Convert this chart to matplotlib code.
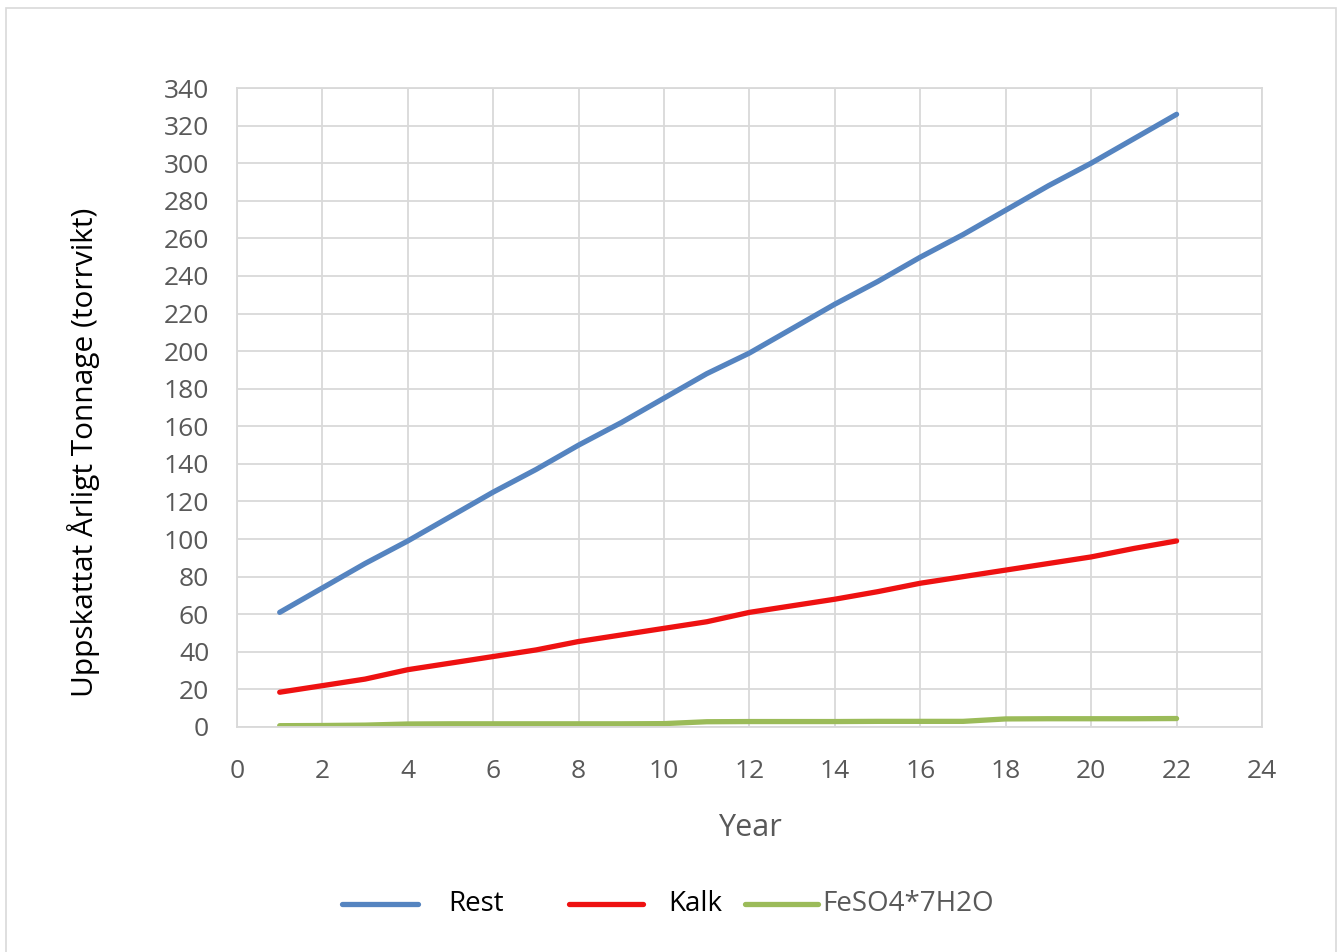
import matplotlib
matplotlib.use("Agg")
import matplotlib.pyplot as plt
from matplotlib.lines import Line2D

years = list(range(1, 23))
rest = [61, 74, 87, 99, 112, 125, 137, 150, 162, 175, 188, 199,
        212, 225, 237, 250, 262, 275, 288, 300, 313, 326]
kalk = [18.5, 22, 25.5, 30.5, 34, 37.5, 41, 45.5, 49, 52.5, 56, 61,
        64.5, 68, 72, 76.5, 80, 83.5, 87, 90.5, 95, 99]
feso4 = [0.7, 0.8, 1.0, 1.6, 1.7, 1.7, 1.7, 1.7, 1.7, 1.8, 2.8, 2.9,
         2.9, 2.9, 3.0, 3.0, 3.0, 4.3, 4.4, 4.4, 4.4, 4.5]
labels = ["Rest", "Kalk", "FeSO4*7H2O"]
colors = ["#5584c0", "#ee1111", "#9bbb59"]

plt.rcParams['font.family'] = ['Open Sans', 'DejaVu Sans']

W, H = 1338, 952
fig = plt.figure(figsize=(W / 100, H / 100), dpi=100)
ax = fig.add_axes([237 / W, 1 - 727 / H, (1262 - 237) / W, (727 - 88) / H])

for y, lab, c in zip([rest, kalk, feso4], labels, colors):
    ax.plot(years, y, color=c, lw=3.8, solid_capstyle='round', label=lab)

ax.set_xlim(0, 24)
ax.set_ylim(0, 340)
ax.set_xticks(range(0, 25, 2))
ax.set_yticks(range(0, 341, 20))
ax.grid(True, color="#d9d9d9", lw=1.3)
ax.set_axisbelow(True)
for s in ax.spines.values():
    s.set_color("#d9d9d9")
    s.set_linewidth(1.3)
ax.tick_params(length=0, labelsize=19, colors="#595959")
ax.tick_params(axis='x', pad=23)
ax.tick_params(axis='y', pad=20)
ax.set_xlabel("Year", fontsize=22, color="#595959", labelpad=21)
ax.set_ylabel("Uppskattat Årligt Tonnage (torrvikt)", fontsize=21.5,
              color="black")
ax.yaxis.set_label_coords(-0.134, 0.43)

# legend drawn by hand to copy the uneven spacing of the original
handle_x = [(342, 418), (569, 643), (745, 818)]
text_x = [448, 668, 822]
text_c = ["black", "black", "#595959"]
ly = 1 - 904 / H
for (x0, x1), tx, lab, c, tc in zip(handle_x, text_x, labels, colors, text_c):
    fig.add_artist(Line2D([x0 / W, x1 / W], [ly, ly], color=c, lw=3.8,
                          solid_capstyle='round', transform=fig.transFigure))
    fig.text(tx / W, ly, lab, fontsize=20, color=tc, va='center', ha='left')

fig.patches.append(plt.Rectangle((6 / W, -0.01), (1336 - 6) / W, 0.01 + 1 - 8 / H,
                                 transform=fig.transFigure, fill=False,
                                 edgecolor="#d9d9d9", lw=1.2))

fig.savefig("out.png", dpi=100)
